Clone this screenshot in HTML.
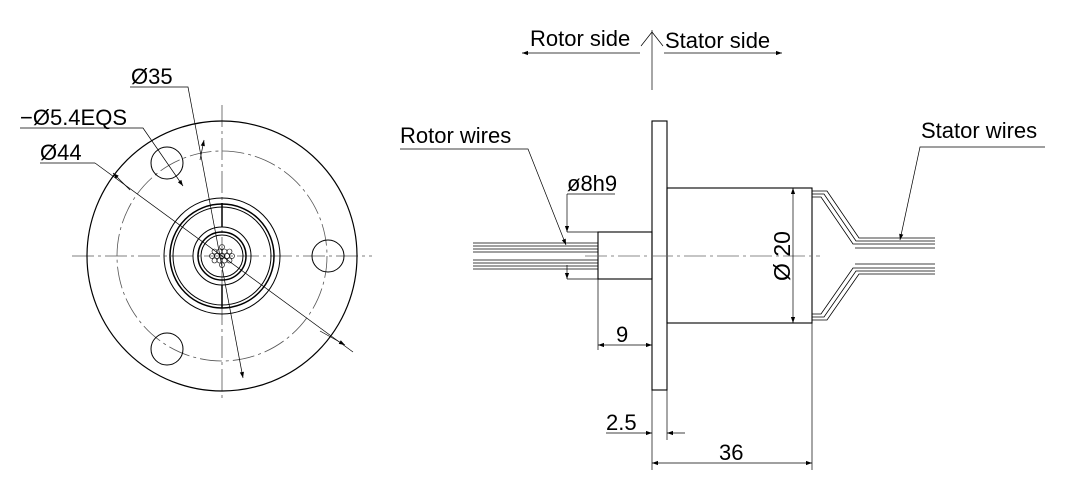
<!DOCTYPE html>
<html><head><meta charset="utf-8"><style>
body{margin:0;background:#fff}
svg{display:block}
text{font-family:"Liberation Sans",sans-serif;fill:#000}
</style></head><body>
<svg width="1074" height="502" viewBox="0 0 1074 502" xmlns="http://www.w3.org/2000/svg">
<defs>
<marker id="a" viewBox="0 0 10 10" refX="10" refY="5" markerWidth="9" markerHeight="6" orient="auto-start-reverse" markerUnits="userSpaceOnUse"><path d="M0,1.5 L10,5 L0,8.5z" fill="#000"/></marker>
</defs>
<g fill="none" stroke="#000">
<g stroke="#555" stroke-width="0.8" stroke-dasharray="22,4,3,4">
<line x1="72" y1="256" x2="372" y2="256"/>
<line x1="222" y1="105" x2="222" y2="402"/>
<circle cx="222" cy="256" r="105"/>
</g>
<circle cx="222" cy="256" r="135" stroke-width="1.2"/>
<circle cx="328" cy="256" r="16"/>
<circle cx="167" cy="163" r="16"/>
<circle cx="167" cy="349" r="16"/>
<circle cx="222" cy="256" r="58"/>
<circle cx="222" cy="256" r="52" stroke-width="1.5"/>
<circle cx="222" cy="256" r="49"/>
<circle cx="222" cy="256" r="29"/>
<circle cx="222" cy="256" r="24" stroke-width="1.5"/>
<circle cx="222" cy="256" r="21"/>
<g stroke-width="0.6">
<circle cx="222" cy="256" r="2.5"/>
<circle cx="217" cy="256" r="2.5"/><circle cx="227" cy="256" r="2.5"/>
<circle cx="219.5" cy="251.5" r="2.5"/><circle cx="224.5" cy="251.5" r="2.5"/>
<circle cx="219.5" cy="260.5" r="2.5"/><circle cx="224.5" cy="260.5" r="2.5"/>
<circle cx="214.5" cy="251.5" r="2.5"/><circle cx="229.5" cy="251.5" r="2.5"/>
<circle cx="214.5" cy="260.5" r="2.5"/><circle cx="229.5" cy="260.5" r="2.5"/>
<circle cx="222" cy="247" r="2.5"/><circle cx="222" cy="265" r="2.5"/>
<circle cx="212" cy="256" r="2.5"/><circle cx="232" cy="256" r="2.5"/>
</g>
<line x1="222" y1="203" x2="222" y2="227" stroke-width="1.5"/>
<line x1="222" y1="285" x2="222" y2="308" stroke-width="1.5"/>
<g stroke-width="0.7">
<polyline points="130,87 188,87 243,378" marker-end="url(#a)"/>
<line x1="200" y1="160" x2="204" y2="140" marker-end="url(#a)"/>
<polyline points="20,128 143,128 183,186" marker-end="url(#a)"/>
<line x1="40" y1="163" x2="95" y2="163"/>
<line x1="95" y1="163" x2="353" y2="352"/>
<line x1="320" y1="331" x2="345" y2="345" marker-end="url(#a)"/>
<line x1="130" y1="190" x2="113" y2="173" marker-end="url(#a)"/>
</g>
<rect x="652" y="121" width="15" height="269" stroke-width="1.1"/>
<rect x="667" y="188" width="145" height="135" stroke-width="1.1"/>
<rect x="598" y="232" width="54" height="47" stroke-width="1.1"/>
<line x1="585" y1="256" x2="820" y2="256" stroke="#666" stroke-width="0.7" stroke-dasharray="22,4,3,4"/>
<g stroke-width="0.8">
<line x1="473" y1="243" x2="598" y2="243"/><line x1="473" y1="246" x2="598" y2="246"/>
<line x1="473" y1="249" x2="598" y2="249"/><line x1="473" y1="252" x2="598" y2="252"/>
<line x1="473" y1="260" x2="598" y2="260"/><line x1="473" y1="263" x2="598" y2="263"/>
<line x1="473" y1="266" x2="598" y2="266"/><line x1="473" y1="269" x2="598" y2="269"/>
<polyline points="812,191 827,191 859,238 935,238"/>
<polyline points="812,194 824,194 856,241 935,241"/>
<polyline points="812,197 821,197 853,244 935,244"/>
<polyline points="812,314 821,314 853,268 935,268"/>
<polyline points="812,317 824,317 856,271 935,271"/>
<polyline points="812,320 827,320 859,274 935,274"/>
<line x1="855" y1="248" x2="935" y2="248"/><line x1="855" y1="264" x2="935" y2="264"/>
</g>
<g stroke-width="0.7">
<polyline points="400,149 528,149 566,245" marker-end="url(#a)"/>
<polyline points="1045,147 920,147 900,240" marker-end="url(#a)"/>
<line x1="615" y1="194" x2="567" y2="194"/>
<line x1="567" y1="194" x2="567" y2="232" marker-end="url(#a)"/>
<line x1="567" y1="265" x2="567" y2="279" marker-end="url(#a)"/>
<line x1="567" y1="232" x2="598" y2="232"/><line x1="567" y1="279" x2="598" y2="279"/>
<line x1="793" y1="188" x2="793" y2="323" marker-start="url(#a)" marker-end="url(#a)"/>
<line x1="598" y1="279" x2="598" y2="350"/>
<line x1="598" y1="345" x2="652" y2="345" marker-start="url(#a)" marker-end="url(#a)"/>
<line x1="652" y1="390" x2="652" y2="470"/><line x1="667" y1="390" x2="667" y2="440"/>
<line x1="812" y1="323" x2="812" y2="470"/>
<line x1="606" y1="433" x2="652" y2="433" marker-end="url(#a)"/>
<line x1="685" y1="433" x2="667" y2="433" marker-end="url(#a)"/>
<line x1="652" y1="463" x2="812" y2="463" marker-start="url(#a)" marker-end="url(#a)"/>
<line x1="652" y1="30" x2="652" y2="90"/>
<polyline points="641,46 652,32 663,46"/>
<line x1="640" y1="53" x2="522" y2="53" marker-end="url(#a)"/>
<line x1="664" y1="53" x2="782" y2="53" marker-end="url(#a)"/>
</g>
</g>
<g font-size="22">
<text x="131" y="84">Ø35</text>
<text x="20" y="125">−Ø5.4EQS</text>
<text x="40" y="160">Ø44</text>
<text x="530" y="46">Rotor side</text>
<text x="665" y="48">Stator side</text>
<text x="400" y="143">Rotor wires</text>
<text x="921" y="138">Stator wires</text>
<text x="567" y="191">ø8h9</text>
<text x="616" y="342">9</text>
<text x="606" y="430">2.5</text>
<text x="719" y="460">36</text>
<text transform="translate(790,256) rotate(-90)" text-anchor="middle" font-size="23">Ø 20</text>
</g>
</svg>
</body></html>
